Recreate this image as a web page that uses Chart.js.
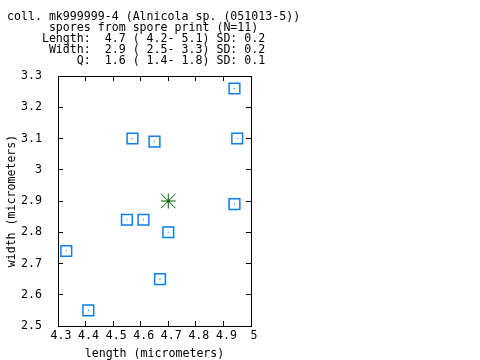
<!DOCTYPE html>
<html><head><meta charset="utf-8">
<script src="https://cdn.jsdelivr.net/npm/chart.js@4.4.1/dist/chart.umd.min.js"></script>
<style>html,body{margin:0;padding:0;background:#fff}canvas{display:block}</style>
</head><body>
<canvas id="c" width="480" height="360"></canvas>
<script>
const titleLines = [
  "coll. mk999999-4 (Alnicola sp. (051013-5))",
  "      spores from spore print (N=11)",
  "     Length:  4.7 ( 4.2- 5.1) SD: 0.2",
  "      Width:  2.9 ( 2.5- 3.3) SD: 0.2",
  "          Q:  1.6 ( 1.4- 1.8) SD: 0.1"
];
const sporeLength = [4.94, 4.57, 4.65, 4.95, 4.94, 4.55, 4.61, 4.70, 4.33, 4.67, 4.41];
const sporeWidth  = [3.26, 3.10, 3.09, 3.10, 2.89, 2.84, 2.84, 2.80, 2.74, 2.65, 2.55];
const meanLength = [4.7];
const meanWidth = [2.9];
const xTickValues = [4.3, 4.4, 4.5, 4.6, 4.7, 4.8, 4.9, 5.0];
const xTickLabels = ["4.3", "4.4", "4.5", "4.6", "4.7", "4.8", "4.9", "5"];
const yTickValues = [2.5, 2.6, 2.7, 2.8, 2.9, 3.0, 3.1, 3.2, 3.3];
const yTickLabels = ["2.5", "2.6", "2.7", "2.8", "2.9", "3", "3.1", "3.2", "3.3"];
const xTitle = "length (micrometers)";
const yTitle = "width (micrometers)";

const MONO = '"DejaVu Sans Mono", "Liberation Mono", monospace';
const FS = 11.6;
const BLUE = '#0a7ff0';
const GREEN = '#006400';

const pts = sporeLength.map((x, i) => ({x: x, y: sporeWidth[i]}));
const meanPts = meanLength.map((x, i) => ({x: x, y: meanWidth[i]}));

const setTicks = vals => scale => { scale.ticks = vals.map(v => ({value: v})); };
const tickCfg = (vals, labels, extra) => Object.assign({
  font: {family: MONO, size: FS},
  color: '#000',
  autoSkip: false,
  maxRotation: 0,
  callback: (v, i) => labels[i]
}, extra);

const gridCfg = {drawOnChartArea: false, drawTicks: true, tickLength: -5, color: '#000', lineWidth: 1};
const borderCfg = {display: true, color: '#000', width: 1};

Chart.defaults.color = '#000';

new Chart(document.getElementById('c'), {
  type: 'scatter',
  data: {
    datasets: [
      {data: pts, pointStyle: 'rect', pointRadius: 7.6, borderColor: BLUE, borderWidth: 1.5, backgroundColor: 'rgba(0,0,0,0)'},
      {data: pts, pointStyle: 'rect', pointRadius: 0.75, borderWidth: 0, backgroundColor: BLUE},
      {data: meanPts, pointStyle: 'cross', pointRadius: 7.5, borderColor: GREEN, borderWidth: 1},
      {data: meanPts, pointStyle: 'crossRot', pointRadius: 10.2, borderColor: GREEN, borderWidth: 1},
      {data: meanPts, pointStyle: 'circle', pointRadius: 1.6, borderWidth: 0, backgroundColor: GREEN}
    ]
  },
  options: {
    responsive: false,
    animation: false,
    events: [],
    layout: {padding: {left: 7, right: 0, top: 0, bottom: 0}},
    plugins: {
      legend: {display: false},
      tooltip: {enabled: false},
      title: {
        display: true,
        text: titleLines,
        align: 'start',
        color: '#000',
        font: {family: MONO, size: FS, weight: 'normal', lineHeight: '11px'},
        padding: {top: 11, bottom: 10}
      }
    },
    scales: {
      x: {
        type: 'linear', position: 'bottom', min: 4.3, max: 5.0,
        afterBuildTicks: setTicks(xTickValues),
        afterFit: s => { s.height = 34; },
        ticks: tickCfg(xTickValues, xTickLabels, {padding: 8.5, labelOffset: 3}),
        grid: gridCfg, border: borderCfg,
        title: {display: true, text: xTitle, color: '#000', font: {family: MONO, size: FS, lineHeight: '13px'}, padding: 0}
      },
      x2: {
        type: 'linear', position: 'top', min: 4.3, max: 5.0,
        afterBuildTicks: setTicks(xTickValues),
        afterFit: s => { s.height = 0; },
        ticks: {display: false},
        grid: gridCfg, border: borderCfg
      },
      y: {
        type: 'linear', position: 'left', min: 2.5, max: 3.3,
        afterBuildTicks: setTicks(yTickValues),
        afterFit: s => { s.width = 51; },
        ticks: tickCfg(yTickValues, yTickLabels, {padding: 21}),
        grid: gridCfg, border: borderCfg,
        title: {display: true, text: yTitle, color: '#000', font: {family: MONO, size: FS, lineHeight: '10px'}, padding: 0}
      },
      y2: {
        type: 'linear', position: 'right', min: 2.5, max: 3.3,
        afterBuildTicks: setTicks(yTickValues),
        afterFit: s => { s.width = 229; },
        ticks: {display: false},
        grid: gridCfg, border: borderCfg
      }
    }
  },
  plugins: [{
    id: 'bg',
    beforeDraw: c => { const ctx = c.ctx; ctx.save(); ctx.fillStyle = '#fff'; ctx.fillRect(0, 0, c.width, c.height); ctx.restore(); }
  }]
});
</script>
</body></html>
